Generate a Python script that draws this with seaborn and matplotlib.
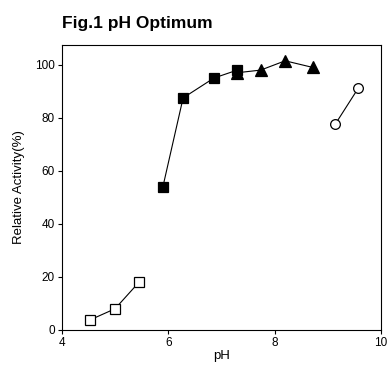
import matplotlib
matplotlib.use("Agg")
import matplotlib.pyplot as plt
import seaborn as sns

# Datos
ph_abierto = [4.53, 5.0, 5.45]
act_abierto = [3.8, 8.0, 18.0]

ph_cuadro = [5.9, 6.28, 6.86, 7.3]
act_cuadro = [54.0, 87.5, 95.0, 98.0]

ph_triangulo = [7.3, 7.74, 8.2, 8.72]
act_triangulo = [97.0, 98.0, 101.5, 99.0]

ph_circulo = [9.14, 9.58]
act_circulo = [77.5, 91.3]

sns.set_style("ticks")
plt.rcParams['font.family'] = ['Liberation Sans', 'DejaVu Sans']
plt.rcParams['text.color'] = 'black'
plt.rcParams['axes.labelcolor'] = 'black'
plt.rcParams['xtick.color'] = 'black'
plt.rcParams['ytick.color'] = 'black'

fig = plt.figure(figsize=(3.87, 3.65), dpi=100)
ax = fig.add_axes([0.160, 0.096, 0.824, 0.781])

estilo = dict(color='black', linewidth=0.8, markersize=7, markeredgecolor='black',
              markeredgewidth=0.9, sort=False)
sns.lineplot(x=ph_abierto, y=act_abierto, marker='s', markerfacecolor='white', ax=ax, **estilo)
sns.lineplot(x=ph_cuadro, y=act_cuadro, marker='s', markerfacecolor='black', ax=ax, **estilo)
sns.lineplot(x=ph_triangulo, y=act_triangulo, marker='^', markerfacecolor='black', ax=ax,
             **{**estilo, 'markersize': 8})
sns.lineplot(x=ph_circulo, y=act_circulo, marker='o', markerfacecolor='white', ax=ax, **estilo)

ax.set_xlim(4, 10)
ax.set_ylim(0, 107.5)
ax.set_xticks([4, 6, 8, 10])
ax.set_yticks([0, 20, 40, 60, 80, 100])
ax.tick_params(axis='both', labelsize=8.5, length=3, width=0.8, pad=2)
for s in ax.spines.values():
    s.set_linewidth(0.8)
    s.set_color('black')

ax.set_xlabel('pH', fontsize=9.5, labelpad=1)
ax.set_ylabel('Relative Activity(%)', fontsize=9.5, labelpad=7)
fig.text(0.16, 0.935, 'Fig.1 pH Optimum', fontsize=12.5, fontweight='bold', ha='left', va='center')

fig.savefig('out.png', dpi=100)
